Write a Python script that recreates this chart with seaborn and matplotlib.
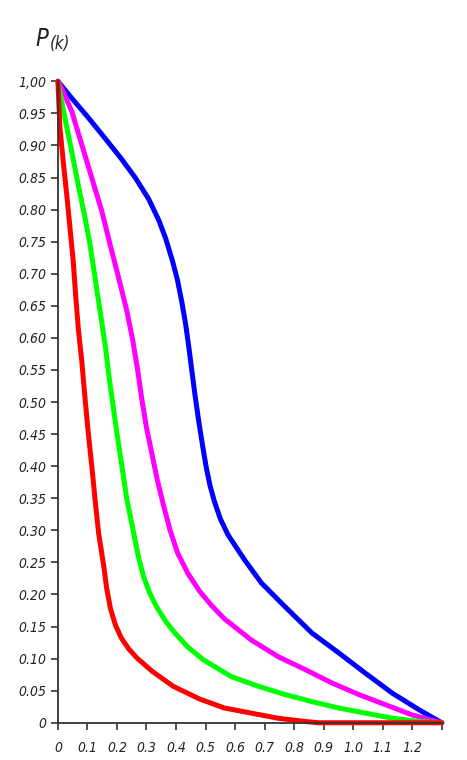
import pandas as pd
import numpy as np
import matplotlib
matplotlib.use('Agg')
import matplotlib.pyplot as plt
import seaborn as sns

# Curves.
blue_x = [0, 0.05, 0.10, 0.160, 0.217, 0.263, 0.308, 0.342, 0.365, 0.388,
          0.405, 0.420, 0.433, 0.445, 0.456, 0.466, 0.477, 0.490, 0.502,
          0.515, 0.530, 0.550, 0.576, 0.632, 0.689, 0.769, 0.860, 0.951,
          1.042, 1.133, 1.224, 1.3]
blue_y = [1.0, 0.972, 0.945, 0.911, 0.878, 0.849, 0.816, 0.783, 0.755, 0.720,
          0.690, 0.655, 0.620, 0.580, 0.540, 0.505, 0.470, 0.432, 0.399,
          0.370, 0.345, 0.318, 0.293, 0.254, 0.218, 0.181, 0.140, 0.109,
          0.077, 0.046, 0.020, 0.0]

magenta_x = [0, 0.013, 0.047, 0.081, 0.115, 0.149, 0.177, 0.206, 0.234,
             0.254, 0.270, 0.284, 0.300, 0.318, 0.336, 0.357, 0.380, 0.405,
             0.440, 0.480, 0.520, 0.564, 0.655, 0.746, 0.837, 0.928, 1.019,
             1.110, 1.201, 1.3]
magenta_y = [1.0, 0.989, 0.953, 0.901, 0.849, 0.797, 0.745, 0.693, 0.641,
             0.595, 0.550, 0.505, 0.460, 0.420, 0.380, 0.340, 0.300, 0.265,
             0.233, 0.205, 0.183, 0.162, 0.129, 0.103, 0.083, 0.062, 0.044,
             0.028, 0.012, 0.0]

green_x = [0, 0.024, 0.047, 0.069, 0.092, 0.109, 0.126, 0.143, 0.160, 0.174,
           0.185, 0.200, 0.217, 0.234, 0.257, 0.272, 0.290, 0.310, 0.335,
           0.365, 0.400, 0.440, 0.493, 0.587, 0.678, 0.769, 0.860, 0.951,
           1.042, 1.133, 1.224, 1.3]
green_y = [1.0, 0.942, 0.890, 0.838, 0.787, 0.745, 0.693, 0.641, 0.589, 0.537,
           0.500, 0.451, 0.399, 0.347, 0.295, 0.260, 0.228, 0.203, 0.180,
           0.158, 0.138, 0.118, 0.098, 0.072, 0.057, 0.044, 0.033, 0.023,
           0.015, 0.007, 0.002, 0.0]

red_x = [0, 0.007, 0.018, 0.030, 0.041, 0.052, 0.060, 0.069, 0.081, 0.092,
         0.103, 0.115, 0.126, 0.138, 0.155, 0.165, 0.178, 0.195, 0.215,
         0.240, 0.270, 0.320, 0.390, 0.480, 0.564, 0.655, 0.746, 0.837,
         0.883, 1.3]
red_y = [1.0, 0.927, 0.875, 0.823, 0.771, 0.719, 0.667, 0.615, 0.563, 0.505,
         0.451, 0.399, 0.347, 0.295, 0.245, 0.210, 0.178, 0.152, 0.132,
         0.115, 0.100, 0.080, 0.057, 0.037, 0.023, 0.015, 0.007, 0.002,
         0.0, 0.0]

x_ticks = [0, 0.1, 0.2, 0.3, 0.4, 0.5, 0.6, 0.7, 0.8, 0.9, 1.0, 1.1, 1.2, 1.3]
x_labels = ['0', '0.1', '0.2', '0.3', '0.4', '0.5', '0.6', '0.7', '0.8',
            '0.9', '1.0', '1.1', '1.2', '']
y_ticks = [round(0.05 * i, 2) for i in range(21)]
y_labels = ['0'] + ['%.2f' % v for v in y_ticks[1:-1]] + ['1,00']

sns.set_style('ticks')
plt.rcParams['font.family'] = ['DejaVu Sans']
plt.rcParams['font.style'] = 'italic'
plt.rcParams['font.stretch'] = 'condensed'

fig = plt.figure(figsize=(4.67, 7.6), dpi=100)
ax = fig.add_axes([0.124, 0.049, 0.822, 0.844])

curves = [(blue_x, blue_y, '#0000ff'), (magenta_x, magenta_y, '#ff00ff'),
          (green_x, green_y, '#00ff00'), (red_x, red_y, '#ff0000')]
for xs, ys, col in curves:
    df = pd.DataFrame({'x': xs, 'y': ys})
    sns.lineplot(data=df, x='x', y='y', color=col, linewidth=3.6,
                 estimator=None, sort=False, ax=ax, clip_on=False,
                 solid_joinstyle='round', solid_capstyle='round')

ax.set_xlim(0, 1.3)
ax.set_ylim(0, 1.0)
ax.set_xticks(x_ticks)
ax.set_xticklabels(x_labels, fontsize=10)
ax.set_yticks(y_ticks)
ax.set_yticklabels(y_labels, fontsize=10)
ax.set_xlabel('')
ax.set_ylabel('')
ax.tick_params(direction='out', length=5, width=1.2, color='#333333',
               labelcolor='#222222')
ax.tick_params(axis='x', pad=8)
sns.despine(ax=ax)
for s in ['left', 'bottom']:
    ax.spines[s].set_linewidth(1.3)
    ax.spines[s].set_color('#333333')

fig.text(0.075, 0.94, 'P', fontsize=17, style='italic', color='#222222')
fig.text(0.107, 0.935, '(k)', fontsize=12, style='italic', color='#222222')

plt.savefig('out.png', dpi=100)
